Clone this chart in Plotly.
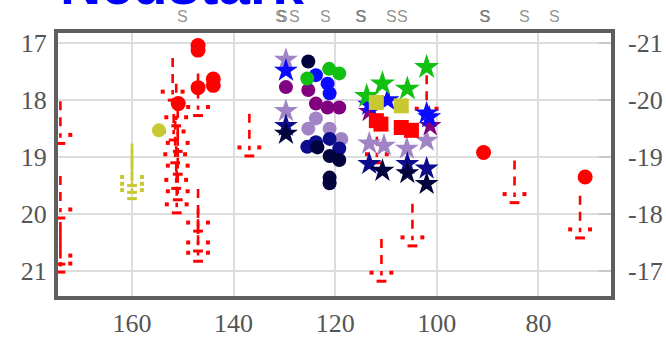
import plotly.graph_objects as go

# ---------------- data (days, apparent magnitude) ----------------
title_text = "Neustark"

x_tick_vals = [160, 140, 120, 100, 80]
x_tick_text = ["160", "140", "120", "100", "80"]
y_tick_vals = [17, 18, 19, 20, 21]
y_tick_text = ["17", "18", "19", "20", "21"]
y2_tick_vals = [-21, -20, -19, -18, -17]
y2_tick_text = ["-21", "-20", "-19", "-18", "-17"]

spectra_days = [150.1, 130.8, 130.3, 128.0, 122.0, 115.1, 114.9, 108.9, 106.7, 90.7, 90.5, 82.7, 76.8]

red_circle_day = [147.0, 147.0, 144.0, 144.0, 147.0, 150.9, 90.8, 70.8]
red_circle_mag = [17.04, 17.12, 17.63, 17.74, 17.78, 18.06, 18.92, 19.35]

yellow_circle_day = [154.7]
yellow_circle_mag = [18.53]

red_square_day = [111.9, 111.0, 107.0, 105.0]
red_square_mag = [18.36, 18.42, 18.48, 18.53]

yellow_square_day = [111.9, 107.0]
yellow_square_mag = [18.04, 18.10]

green_circle_day = [125.5, 121.2, 119.2]
green_circle_mag = [17.62, 17.45, 17.53]
green_star_day = [113.8, 110.7, 105.8, 102.0]
green_star_mag = [17.93, 17.71, 17.80, 17.42]

blue_circle_day = [123.8, 121.5, 121.1]
blue_circle_mag = [17.56, 17.71, 17.88]
blue_star_day = [129.7, 113.3, 109.7, 102.0, 101.5]
blue_star_mag = [17.48, 18.08, 18.00, 18.23, 18.30]

purple_circle_day = [129.7, 125.3, 123.8, 121.5, 119.2]
purple_circle_mag = [17.77, 17.82, 18.06, 18.13, 18.13]
purple_star_day = [113.3, 101.3]
purple_star_mag = [18.20, 18.45]

plum_circle_day = [123.8, 125.3, 121.1, 118.8]
plum_circle_mag = [18.32, 18.50, 18.50, 18.68]
plum_star_day = [129.7, 129.7, 113.3, 110.4, 105.9, 102.0]
plum_star_mag = [17.29, 18.19, 18.76, 18.80, 18.85, 18.71]

navy_circle_day = [125.5, 123.8, 121.1, 119.2]
navy_circle_mag = [18.82, 18.74, 18.68, 18.85]
navy_star_day = [129.7, 113.3, 105.8, 102.0]
navy_star_mag = [18.45, 19.12, 19.12, 19.20]

dark_circle_day = [125.3, 123.5, 121.1, 119.2, 121.1, 121.1]
dark_circle_mag = [17.32, 18.83, 18.98, 19.05, 19.36, 19.46]
dark_star_day = [129.7, 110.7, 105.8, 102.0]
dark_star_mag = [18.59, 19.24, 19.28, 19.47]

red_ul_day = [174.1, 174.1, 174.1, 174.1, 152.0, 151.3, 151.8, 151.0, 151.5, 151.0,
              151.3, 151.0, 151.2, 147.0, 147.0, 147.0, 147.0, 136.9, 111.8, 110.9,
              104.8, 102.0, 84.7, 71.8]
red_ul_mag = [18.76, 20.07, 20.88, 21.02, 18.00, 18.45, 18.70, 18.90, 19.10, 19.30,
              19.55, 19.75, 19.98, 18.27, 20.30, 20.65, 20.83, 18.98, 19.10, 21.18,
              20.56, 18.30, 19.80, 20.42]

yellow_ul_day = [160.0, 160.0, 160.0]
yellow_ul_mag = [19.50, 19.62, 19.73]

distance_modulus = 38.0

# ---------------- colours ----------------
C_RED = "#ff0000"
C_YEL = "#c8c832"
C_GRN = "#12c012"
C_BLU = "#0a0aff"
C_PUR = "#800080"
C_PLUM = "#a084c6"
C_NAVY = "#0c0c8c"
C_DARK = "#02023c"

fig = go.Figure()

SHAFT = 0.74
WING_DX = 1.95
WING_DY = 0.15


def add_limits(days, mags, color):
    sx, sy = [], []
    for d, m in zip(days, mags):
        sx += [d, d, None]
        sy += [m - SHAFT, m - 0.1, None]
    fig.add_trace(go.Scatter(x=sx, y=sy, mode="lines", hoverinfo="skip",
                             line=dict(color=color, width=2.6, dash="9px,7px")))
    wx, wy = [], []
    for d, m in zip(days, mags):
        wx += [d - WING_DX, d + WING_DX]
        wy += [m - WING_DY, m - WING_DY]
    fig.add_trace(go.Scatter(x=wx, y=wy, mode="markers", cliponaxis=False,
                             marker=dict(symbol="square", size=4, color=color,
                                         line=dict(width=0))))
    fig.add_trace(go.Scatter(x=days, y=mags, mode="markers", cliponaxis=False,
                             marker=dict(symbol="line-ew", size=7,
                                         line=dict(color=color, width=3))))


add_limits(red_ul_day, red_ul_mag, C_RED)
add_limits(yellow_ul_day, yellow_ul_mag, C_YEL)


def add_pts(days, mags, color, symbol, size):
    fig.add_trace(go.Scatter(x=days, y=mags, mode="markers",
                             marker=dict(symbol=symbol, size=size, color=color,
                                         line=dict(width=0))))


add_pts(plum_circle_day, plum_circle_mag, C_PLUM, "circle", 14)
add_pts(plum_star_day, plum_star_mag, C_PLUM, "star", 18)
add_pts(purple_circle_day, purple_circle_mag, C_PUR, "circle", 14)
add_pts(purple_star_day, purple_star_mag, C_PUR, "star", 17)
add_pts(navy_circle_day, navy_circle_mag, C_NAVY, "circle", 14)
add_pts(navy_star_day, navy_star_mag, C_NAVY, "star", 18)
add_pts(dark_circle_day, dark_circle_mag, C_DARK, "circle", 14)
add_pts(dark_star_day, dark_star_mag, C_DARK, "star", 18)
add_pts(blue_circle_day, blue_circle_mag, C_BLU, "circle", 14)
add_pts(blue_star_day, blue_star_mag, C_BLU, "star", 18)
add_pts(green_circle_day, green_circle_mag, C_GRN, "circle", 14)
add_pts(green_star_day, green_star_mag, C_GRN, "star", 19)
add_pts(yellow_circle_day, yellow_circle_mag, C_YEL, "circle", 14)
add_pts(yellow_square_day, yellow_square_mag, C_YEL, "square", 15)
add_pts(red_square_day, red_square_mag, C_RED, "square", 15)
add_pts(red_circle_day, red_circle_mag, C_RED, "circle", 15)

# invisible trace carrying absolute magnitudes on the right axis
fig.add_trace(go.Scatter(x=red_circle_day,
                         y=[m - distance_modulus for m in red_circle_mag],
                         yaxis="y2", mode="markers", hoverinfo="skip",
                         marker=dict(opacity=0, size=1)))

# ---------------- layout ----------------
W, H = 666, 339
ml, mr, mt, mb = 58, 55, 33, 43
plot_h = H - mt - mb
plot_bottom = H - mb

x_range = [174.57, 65.71]
y_range = [21.44, 16.82]
y2_range = [y_range[0] - distance_modulus, y_range[1] - distance_modulus]

tick_font = dict(family="Liberation Serif, Times New Roman, serif", size=26, color="#555555")
axis_line = dict(showline=True, linecolor="#5e5e5e", linewidth=4, mirror=True)

fig.update_layout(
    width=W, height=H,
    margin=dict(l=ml, r=mr, t=mt, b=mb, pad=0, autoexpand=False),
    paper_bgcolor="white", plot_bgcolor="white",
    showlegend=False,
    xaxis=dict(range=x_range, tickvals=x_tick_vals, ticktext=x_tick_text,
               showgrid=True, gridcolor="#dddddd", gridwidth=2, zeroline=False,
               automargin=False,
               ticks="", tickfont=tick_font, ticklabelstandoff=1, **axis_line),
    yaxis=dict(range=y_range, tickvals=y_tick_vals, ticktext=y_tick_text,
               showgrid=True, gridcolor="#dddddd", gridwidth=2, zeroline=False,
               automargin=False,
               ticks="", tickfont=tick_font, ticklabelstandoff=2, **axis_line),
    yaxis2=dict(range=y2_range, tickvals=y2_tick_vals, ticktext=y2_tick_text,
                overlaying="y", side="right", showgrid=False, zeroline=False,
                automargin=False,
                ticks="inside", ticklen=12, tickwidth=2, tickcolor="#c8c8c8",
                tickfont=tick_font, ticklabelstandoff=16, showline=False),
)

annotations = []
for d in spectra_days:
    annotations.append(dict(x=d, xref="x", y=(plot_bottom - 16) / plot_h,
                            yref="paper", text="S", showarrow=False,
                            xanchor="center", yanchor="middle",
                            font=dict(family="Liberation Sans", size=16,
                                      color="rgba(110,110,110,0.75)")))
annotations.append(dict(x=(58 - ml) / (W - ml - mr), xref="paper",
                        y=(plot_bottom - 18) / plot_h, yref="paper",
                        text="<b>%s</b>" % title_text, showarrow=False,
                        xanchor="left", yanchor="bottom",
                        font=dict(family="Liberation Sans", size=57, color="#0000ff")))
fig.update_layout(annotations=annotations)

fig.write_html("out.html", config={"displayModeBar": False},
               post_script="document.body.style.margin='0';")
